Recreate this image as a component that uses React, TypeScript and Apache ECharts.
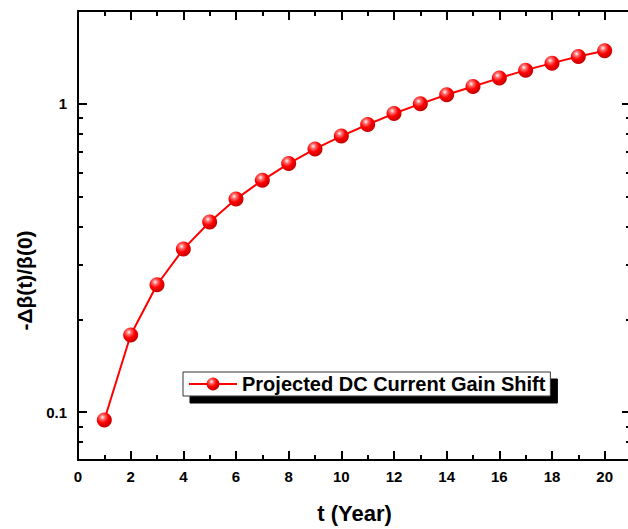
import React, { useEffect, useRef } from "react";
import * as echarts from "echarts";

const years = [1, 2, 3, 4, 5, 6, 7, 8, 9, 10, 11, 12, 13, 14, 15, 16, 17, 18, 19, 20];
const gainShift = [
  0.0944, 0.178, 0.259, 0.338, 0.414, 0.491, 0.565, 0.64, 0.714, 0.786,
  0.857, 0.93, 1.0, 1.07, 1.138, 1.212, 1.286, 1.355, 1.424, 1.486,
];
const yMajorLabels = [0.1, 1];
const yMinorTicks = [0.08, 0.09, 0.2, 0.3, 0.4, 0.5, 0.6, 0.7, 0.8, 0.9];
const seriesName = "Projected DC Current Gain Shift";
const xTitle = "t (Year)";
const yTitle = "-Δβ(t)/β(0)";

const FONT = "'Liberation Sans', Arial, sans-serif";

export default function App() {
  const ref = useRef<HTMLDivElement>(null);
  useEffect(() => {
    document.body.style.margin = "0";
    const chart = echarts.init(ref.current!, null, { renderer: "svg" });
    const axisLine = { show: true, onZero: false, lineStyle: { color: "#000", width: 2 } };
    const hiddenLine = { show: false, onZero: false };
    const majorTick = { show: true, inside: true, length: 9, lineStyle: { color: "#000", width: 2 } };
    const minorTickStyle = { show: true, inside: true, length: 5, lineStyle: { color: "#000", width: 2 } };
    const sphere = new echarts.graphic.RadialGradient(0.38, 0.32, 0.7, [
      { offset: 0, color: "#ffffff" },
      { offset: 0.22, color: "#ff7070" },
      { offset: 0.55, color: "#ff0000" },
      { offset: 1, color: "#c00000" },
    ]);
    const xBase = { type: "value", min: 0, max: 21, splitLine: { show: false } };
    const yLogMin = 0.07;
    const yLogMax = 2;
    chart.setOption({
      animation: false,
      backgroundColor: "#fff",
      grid: [
        { left: 78, top: 11, right: -3, bottom: 69, containLabel: false, outerBoundsMode: "none" },
        { left: 78, top: 11, right: -3, bottom: 69, containLabel: false, outerBoundsMode: "none" },
      ],
      legend: {
        show: true,
        left: 183,
        top: 372,
        orient: "horizontal",
        padding: [2, 5, 2, 5],
        itemWidth: 48,
        itemHeight: 16,
        backgroundColor: "#fff",
        borderColor: "#333",
        borderWidth: 1,
        borderRadius: 0,
        shadowColor: "#000",
        shadowBlur: 0,
        shadowOffsetX: 7,
        shadowOffsetY: 7,
        textStyle: { fontFamily: FONT, fontWeight: "bold", fontSize: 20, color: "#000" },
        data: [seriesName],
      },
      xAxis: [
        {
          ...xBase,
          gridIndex: 0,
          position: "bottom",
          interval: 2,
          axisLine,
          axisTick: majorTick,
          axisLabel: {
            show: true,
            margin: 9,
            fontFamily: FONT,
            fontWeight: "bold",
            fontSize: 15,
            color: "#000",
            formatter: (v: number) => (v % 2 === 0 && v <= 20 ? String(v) : ""),
          },
          name: xTitle,
          nameLocation: "middle",
          nameGap: 42,
          nameTextStyle: { fontFamily: FONT, fontWeight: "bold", fontSize: 22, color: "#000" },
        },
        {
          ...xBase,
          gridIndex: 0,
          position: "top",
          interval: 2,
          axisLine,
          axisTick: majorTick,
          axisLabel: { show: false },
        },
        {
          ...xBase,
          gridIndex: 1,
          position: "bottom",
          interval: 1,
          axisLine: hiddenLine,
          axisTick: minorTickStyle,
          axisLabel: { show: false },
        },
        {
          ...xBase,
          gridIndex: 1,
          position: "top",
          interval: 1,
          axisLine: hiddenLine,
          axisTick: minorTickStyle,
          axisLabel: { show: false },
        },
      ],
      yAxis: [
        {
          type: "log",
          logBase: 10,
          gridIndex: 0,
          position: "left",
          min: yLogMin,
          max: yLogMax,
          splitLine: { show: false },
          axisLine,
          axisTick: majorTick,
          axisLabel: {
            show: true,
            margin: 11,
            fontFamily: FONT,
            fontWeight: "bold",
            fontSize: 15,
            color: "#000",
            formatter: (v: number) => {
              const hit = yMajorLabels.find((m) => Math.abs(m - v) < 1e-6);
              return hit === undefined ? "" : String(hit);
            },
          },
          name: yTitle,
          nameLocation: "middle",
          nameGap: 34,
          nameTextStyle: {
            fontFamily: FONT,
            fontWeight: "bold",
            fontSize: 21,
            color: "#000",
            padding: [0, 90, 0, 0],
          },
        },
        {
          type: "log",
          logBase: 10,
          gridIndex: 0,
          position: "right",
          min: yLogMin,
          max: yLogMax,
          splitLine: { show: false },
          axisLine,
          axisTick: majorTick,
          axisLabel: { show: false },
        },
        {
          type: "value",
          gridIndex: 1,
          position: "left",
          min: Math.log10(yLogMin),
          max: Math.log10(yLogMax),
          splitLine: { show: false },
          axisLine: hiddenLine,
          axisTick: { ...minorTickStyle, customValues: yMinorTicks.map((v) => Math.log10(v)) },
          axisLabel: { show: false },
        },
        {
          type: "value",
          gridIndex: 1,
          position: "right",
          min: Math.log10(yLogMin),
          max: Math.log10(yLogMax),
          splitLine: { show: false },
          axisLine: hiddenLine,
          axisTick: { ...minorTickStyle, customValues: yMinorTicks.map((v) => Math.log10(v)) },
          axisLabel: { show: false },
        },
      ],
      series: [
        {
          name: seriesName,
          type: "line",
          xAxisIndex: 0,
          yAxisIndex: 0,
          data: years.map((t, i) => [t, gainShift[i]]),
          symbol: "circle",
          symbolSize: 15,
          showSymbol: true,
          lineStyle: { color: "#ff0000", width: 2 },
          itemStyle: { color: sphere, borderWidth: 0 },
          z: 5,
        },
      ],
    });
    return () => chart.dispose();
  }, []);
  return <div ref={ref} style={{ width: 628, height: 529 }} />;
}
